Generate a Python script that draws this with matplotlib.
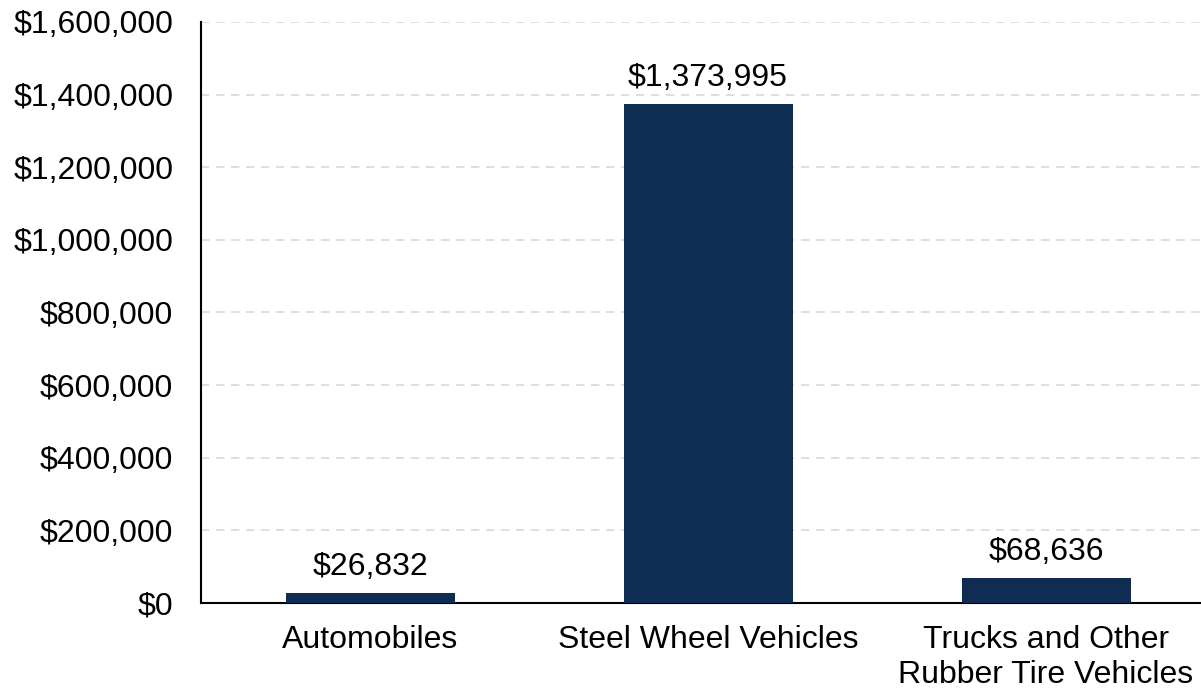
import numpy as np
import matplotlib.pyplot as plt
from matplotlib.ticker import FuncFormatter

categories = ['Automobiles', 'Steel Wheel Vehicles', 'Trucks and Other\nRubber Tire Vehicles']
values = [26832, 1373995, 68636]

plt.rcParams['font.family'] = ['Liberation Sans', 'DejaVu Sans']
plt.rcParams['font.size'] = 23

fig = plt.figure(figsize=(12.01, 6.93), dpi=100)
ax = fig.add_axes([0.1674, 0.1299, 0.8443, 0.8384])

x = np.arange(len(categories))
bars = ax.bar(x, values, width=0.5, color='#0f2d52', zorder=3)

for xi, v in zip(x, values):
    ax.annotate('${:,}'.format(v), (xi, v), xytext=(0, 8), textcoords='offset points',
                ha='center', va='bottom', fontsize=23)

ax.set_xlim(-0.5, 2.5)
ax.set_ylim(0, 1600000)
ax.set_yticks(np.arange(0, 1600001, 200000))
ax.yaxis.set_major_formatter(FuncFormatter(lambda v, p: '${:,.0f}'.format(v)))
ax.set_xticks(x)
ax.set_xticklabels(categories)
ax.tick_params(axis='y', length=0, pad=20)
ax.tick_params(axis='x', length=0, pad=16)

ax.grid(axis='y', color='#d9d9d9', linestyle=(0, (5, 4)), linewidth=1.2, zorder=0)
for s in ['top', 'right']:
    ax.spines[s].set_visible(False)
ax.spines['left'].set_linewidth(1.5)
ax.spines['bottom'].set_linewidth(1.5)

plt.savefig('out.png', dpi=100)
